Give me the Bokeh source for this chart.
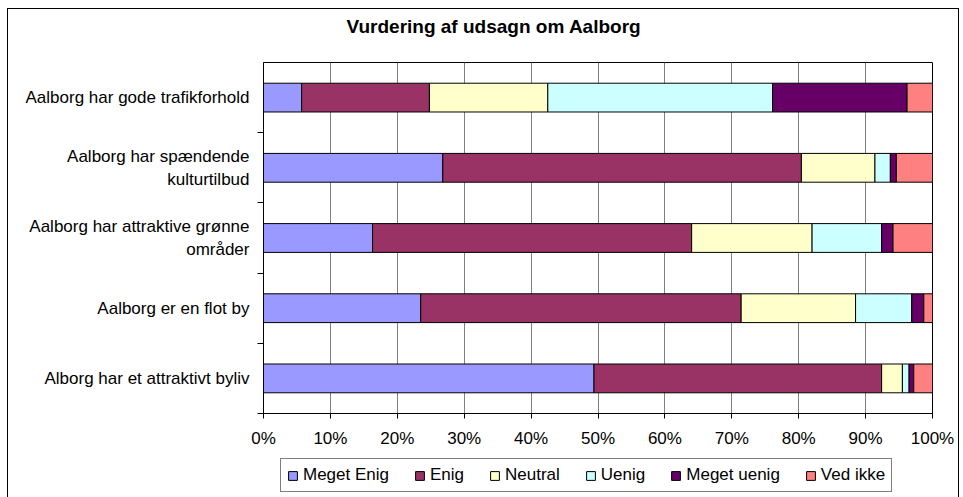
from bokeh.plotting import figure
from bokeh.layouts import column
from bokeh.models import (Range1d, FactorRange, LinearAxis, CategoricalAxis, FixedTicker,
                          PrintfTickFormatter, Legend, LegendItem, ColumnDataSource)
from bokeh.embed import file_html
from bokeh.resources import INLINE

# Statements, listed bottom to top as they appear on the y axis
statements = [
    "Alborg har et attraktivt byliv",
    "Aalborg er en flot by",
    "Aalborg har attraktive grønne\nområder",
    "Aalborg har spændende\nkulturtilbud",
    "Aalborg har gode trafikforhold",
]

answers = ["Meget Enig", "Enig", "Neutral", "Uenig", "Meget uenig", "Ved ikke"]

# Share of answers (%) per statement, same order as `statements`
meget_enig = [49.4, 23.5, 16.3, 26.8, 5.7]
enig = [43.0, 47.9, 47.7, 53.6, 19.1]
neutral = [3.1, 17.1, 18.0, 11.0, 17.7]
uenig = [1.0, 8.4, 10.4, 2.3, 33.6]
meget_uenig = [0.7, 1.8, 1.7, 0.9, 20.1]
ved_ikke = [2.8, 1.3, 5.9, 5.4, 3.8]

pct_ticks = list(range(0, 101, 10))

colors = ["#9999FF", "#993366", "#FFFFCC", "#CCFFFF", "#660066", "#FF8080"]
FONT = "Liberation Sans"

keys = ["s0", "s1", "s2", "s3", "s4", "s5"]
source = ColumnDataSource(dict(
    stmt=statements,
    s0=meget_enig, s1=enig, s2=neutral, s3=uenig, s4=meget_uenig, s5=ved_ikke,
))

# ---- title strip ------------------------------------------------------------
tf = figure(
    width=950, height=53,
    x_range=Range1d(0, 1), y_range=Range1d(0, 1),
    x_axis_location=None, y_axis_location=None,
    output_backend="svg", toolbar_location=None,
    min_border=0,
    title="Vurdering af udsagn om Aalborg",
)
tf.outline_line_color = None
tf.grid.grid_line_color = None
tf.background_fill_color = "white"
tf.border_fill_color = "white"
tf.title.align = "left"
tf.title.offset = 83
tf.title.text_font = FONT
tf.title.text_font_size = "19px"
tf.title.text_font_style = "bold"
tf.title.text_color = "black"
tf.title.standoff = 8

# ---- main chart -------------------------------------------------------------
p = figure(
    width=950, height=393,
    y_range=FactorRange(*statements),
    x_range=Range1d(0, 100),
    y_axis_location=None,
    output_backend="svg", toolbar_location=None,
    min_border_left=255, min_border_right=26, min_border_top=0, min_border_bottom=42,
)
p.background_fill_color = "white"
p.border_fill_color = "white"
p.outline_line_color = "black"
p.outline_line_width = 1

renderers = p.hbar_stack(keys, y="stmt", height=0.41, color=colors,
                         line_color="black", line_width=1, source=source)

# x axis: percentage scale
xa = p.xaxis[0]
xa.ticker = FixedTicker(ticks=pct_ticks)
xa.formatter = PrintfTickFormatter(format="%d%%")
xa.major_tick_out = 5
xa.major_tick_in = 0
xa.minor_tick_line_color = None
xa.axis_line_color = "black"
xa.major_tick_line_color = "black"
xa.major_label_text_font = FONT
xa.major_label_text_font_size = "17px"
xa.major_label_text_color = "black"
xa.major_label_standoff = 10

p.xgrid.ticker = FixedTicker(ticks=pct_ticks)
p.xgrid.grid_line_color = "#808080"
p.ygrid.grid_line_color = None

# y axis ticks sit on the boundaries between statement bands
band_edges = list(range(len(statements)))
tick_axis = LinearAxis(
    ticker=FixedTicker(ticks=band_edges),
    major_label_overrides={i: "" for i in band_edges},
    major_tick_out=6, major_tick_in=0, major_label_standoff=0,
    minor_tick_line_color=None, axis_line_color="black", major_tick_line_color="black",
)
p.add_layout(tick_axis, "left")

label_axis = CategoricalAxis(
    axis_line_color=None, major_tick_line_color=None, minor_tick_line_color=None,
    major_label_standoff=2,
    major_label_text_font=FONT, major_label_text_font_size="17px",
    major_label_text_color="black",
)
p.add_layout(label_axis, "left")

# ---- legend strip under the chart ------------------------------------------
lf = figure(
    width=950, height=56,
    y_range=FactorRange(*statements),
    x_range=Range1d(0, 100),
    x_axis_location=None, y_axis_location=None,
    output_backend="svg", toolbar_location=None,
    min_border=0,
)
lf.outline_line_color = None
lf.grid.grid_line_color = None
lf.background_fill_color = "white"
lf.border_fill_color = "white"
# same stacked series, kept hidden: they only supply the legend swatches
legend_bars = lf.hbar_stack(keys, y="stmt", height=0.41, color=colors,
                            line_color="black", line_width=1, source=source)
for r in legend_bars:
    r.visible = False

legend = Legend(
    items=[LegendItem(label=a, renderers=[r]) for a, r in zip(answers, legend_bars)],
    orientation="horizontal",
    location=(17, 19),
    border_line_color="black", border_line_width=1,
    background_fill_color="white", background_fill_alpha=1,
    inactive_fill_alpha=0,
    label_text_font=FONT, label_text_font_size="17px", label_text_color="black",
    glyph_width=11, glyph_height=11, label_standoff=5, spacing=25,
    padding=6, margin=0,
)
lf.add_layout(legend, "center")

page = column(tf, p, lf, spacing=0)
page.margin = (8, 0, 0, 7)
page.styles = {"border": "1px solid #000000"}

open("out.html", "w").write(file_html(page, INLINE))
